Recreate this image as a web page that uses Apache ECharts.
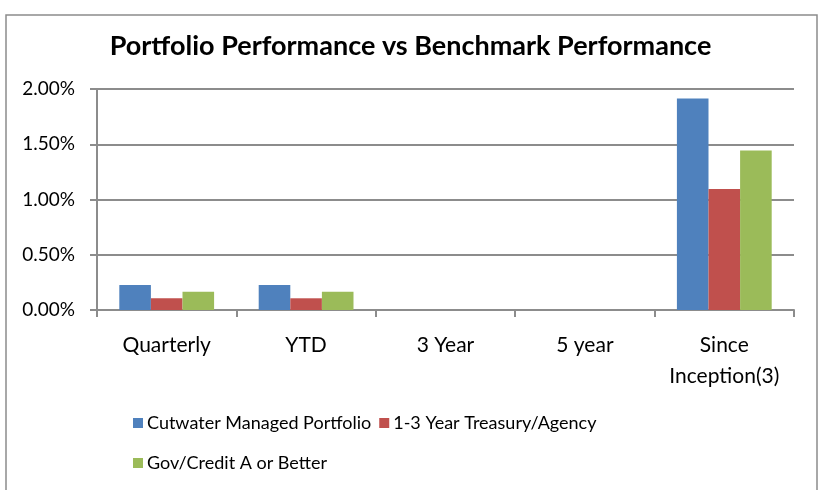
<!DOCTYPE html>
<html>
<head>
<meta charset="utf-8">
<script src="https://cdn.jsdelivr.net/npm/echarts@6/dist/echarts.min.js"></script>
<style>
  html, body { margin: 0; padding: 0; background: #fff; }
  #chart { width: 821px; height: 490px; }
</style>
</head>
<body>
<div id="chart"></div>
<script>
// data
var categories = ['Quarterly', 'YTD', '3 Year', '5 year', 'Since\nInception(3)'];
var cutwater = [0.226, 0.226, 0, 0, 1.914];
var treasury = [0.106, 0.106, 0, 0, 1.094];
var govCredit = [0.166, 0.166, 0, 0, 1.444];
var seriesNames = ['Cutwater Managed Portfolio', '1-3 Year Treasury/Agency', 'Gov/Credit A or Better'];

var font = 'Lato';
var chart = echarts.init(document.getElementById('chart'));

var options = {
  animation: false,
  color: ['#4F81BD', '#C0504D', '#9BBB59'],
  textStyle: { fontFamily: font },
  title: {
    text: 'Portfolio Performance vs Benchmark Performance',
    left: 'center',
    top: 28,
    textStyle: { fontFamily: font, fontWeight: 'bold', fontSize: 27, color: '#000' }
  },
  graphic: [{
    type: 'rect',
    shape: { x: 6, y: 15, width: 811, height: 480 },
    style: { fill: 'none', stroke: '#8c8c8c', lineWidth: 1.5 },
    silent: true
  }],
  legend: [
    {
      data: [seriesNames[0], seriesNames[1]],
      left: 128,
      top: 409,
      itemWidth: 10,
      itemHeight: 10,
      itemGap: 8,
      icon: 'rect',
      textStyle: { fontFamily: font, fontSize: 18, color: '#000', padding: [0, 0, 0, -1] }
    },
    {
      data: [seriesNames[2]],
      left: 128,
      top: 449,
      itemWidth: 10,
      itemHeight: 10,
      icon: 'rect',
      textStyle: { fontFamily: font, fontSize: 18, color: '#000', padding: [0, 0, 0, -1] }
    }
  ],
  grid: { left: 97, right: 27, top: 89, bottom: 180, containLabel: false },
  xAxis: {
    type: 'category',
    data: categories,
    axisLine: { lineStyle: { color: '#8c8c8c', width: 2 } },
    axisTick: { show: true, length: 7, lineStyle: { color: '#8c8c8c', width: 2 } },
    axisLabel: { fontFamily: font, fontSize: 21, color: '#000', margin: 20, lineHeight: 31, interval: 0 }
  },
  yAxis: {
    type: 'value',
    min: 0,
    max: 2,
    interval: 0.5,
    axisLine: { show: true, lineStyle: { color: '#8c8c8c', width: 2 } },
    axisTick: { show: true, length: 7, lineStyle: { color: '#8c8c8c', width: 2 } },
    splitLine: { lineStyle: { color: '#8c8c8c', width: 2 } },
    axisLabel: {
      fontFamily: font, fontSize: 19, color: '#000', margin: 22,
      formatter: function (v) { return v.toFixed(2) + '%'; }
    }
  },
  series: [
    { name: seriesNames[0], type: 'bar', data: cutwater, barGap: '0%', barCategoryGap: '32%' },
    { name: seriesNames[1], type: 'bar', data: treasury, barGap: '0%', barCategoryGap: '32%' },
    { name: seriesNames[2], type: 'bar', data: govCredit, barGap: '0%', barCategoryGap: '32%' }
  ]
};

chart.setOption(options);
</script>
</body>
</html>
